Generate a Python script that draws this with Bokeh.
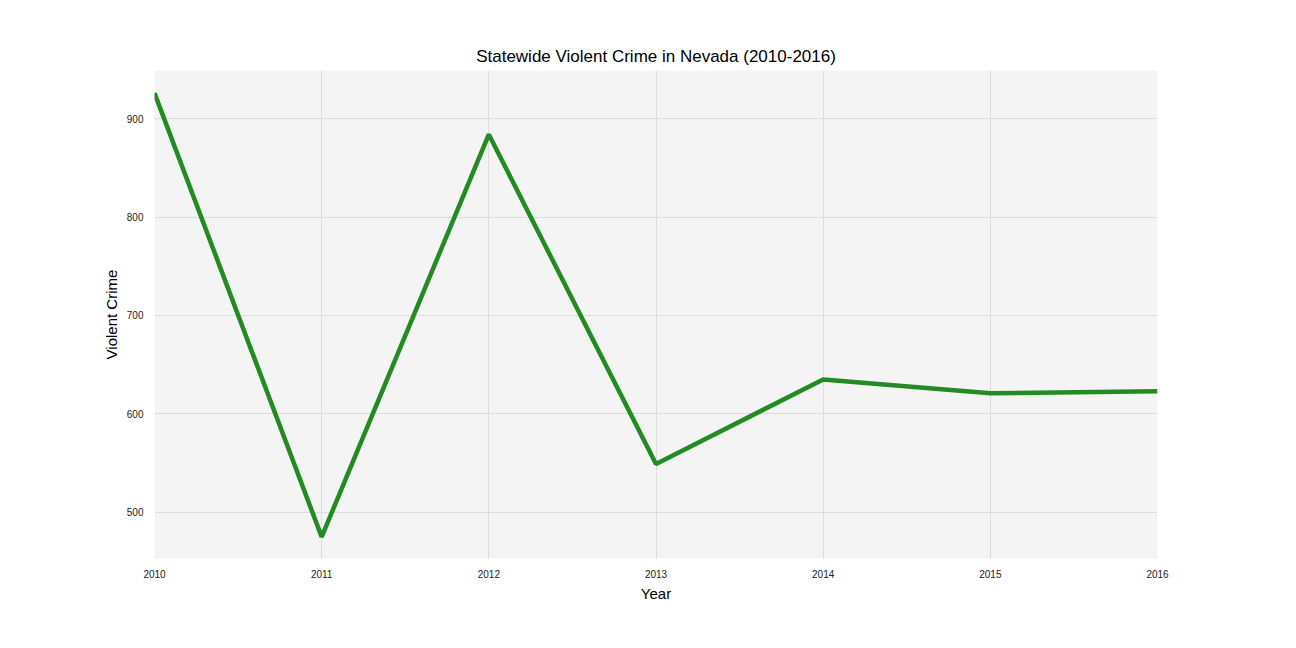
from bokeh.plotting import figure
from bokeh.embed import file_html
from bokeh.resources import INLINE
from bokeh.models import Range1d, FixedTicker

years = [2010, 2011, 2012, 2013, 2014, 2015, 2016]
violent_crime = [926, 475, 884, 549, 635, 621, 623]
y_ticks = [500, 600, 700, 800, 900]

p = figure(width=1280, height=632, output_backend="svg", toolbar_location=None,
           x_range=Range1d(2010, 2016), y_range=Range1d(453, 949),
           min_border_left=154, min_border_right=123, min_border_top=70, min_border_bottom=74,
           title="Statewide Violent Crime in Nevada (2010-2016)")
p.line(years, violent_crime, line_color="#228B22", line_width=4.5)
p.title.align = "center"
p.title.text_font = "Liberation Sans"
p.title.text_font_size = "17px"
p.title.text_font_style = "normal"
p.title.text_color = "black"
p.background_fill_color = "#f4f4f4"
p.outline_line_color = None
p.xaxis.ticker = FixedTicker(ticks=years)
p.yaxis.ticker = FixedTicker(ticks=y_ticks)
p.xaxis.axis_label = "Year"
p.yaxis.axis_label = "Violent Crime"
for ax in (p.xaxis, p.yaxis):
    ax.axis_label_text_font = "Liberation Sans"
    ax.axis_label_text_font_size = "15px"
    ax.axis_label_text_font_style = "normal"
    ax.axis_label_text_color = "black"
    ax.major_label_text_font = "Liberation Sans"
    ax.major_label_text_font_size = "10px"
    ax.major_label_text_color = "#222222"
    ax.axis_line_color = None
    ax.major_tick_line_color = None
    ax.minor_tick_line_color = None
    ax.axis_label_standoff = 4
p.grid.grid_line_color = "#dcdcdc"
p.grid.grid_line_width = 1

open("out.html", "w").write(file_html(p, INLINE))
